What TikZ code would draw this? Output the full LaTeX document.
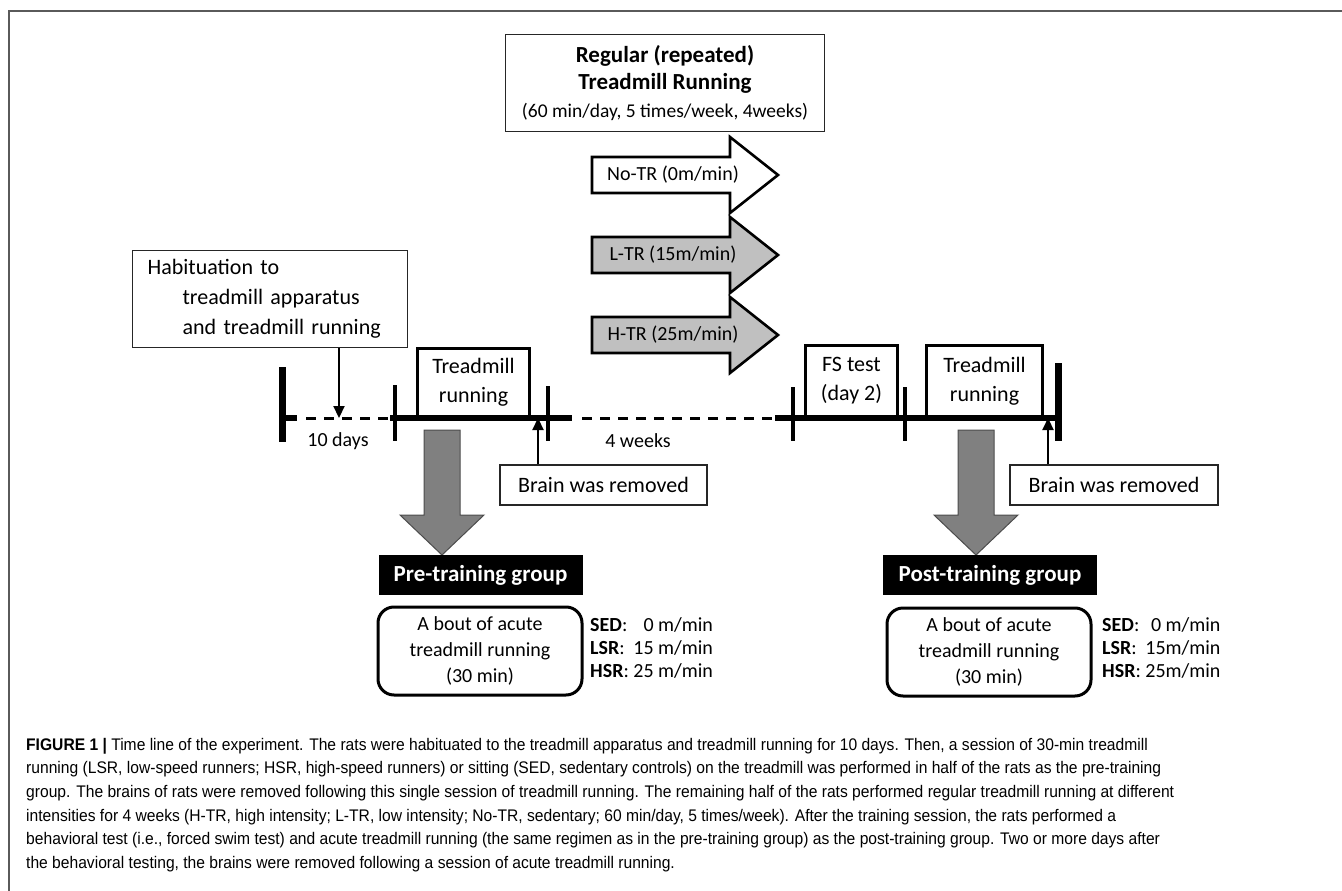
\documentclass[tikz,border=0pt]{standalone}
\usepackage{fontspec}
\setmainfont{Carlito}
\newfontfamily\capfont{Liberation Sans}[FakeStretch=0.93]
\usetikzlibrary{arrows.meta,positioning}

\definecolor{framegray}{HTML}{5A5A5A}
\definecolor{arrowlight}{HTML}{C0C0C0}
\definecolor{arrowdark}{HTML}{808080}

\tikzset{
  thinbox/.style={draw=black!85,line width=1.2pt,fill=white,inner sep=0pt},
  phasebox/.style={draw=black,line width=3pt,inner sep=0pt,align=center,font=\fontsize{22}{29}\selectfont},
  groupbox/.style={fill=black,text=white,inner sep=0pt,minimum width=204,minimum height=40,font=\fontsize{23}{27}\selectfont\bfseries},
  boutbox/.style={draw=black,line width=3pt,rounded corners=16pt,inner sep=0pt,minimum width=204,minimum height=88,align=center,font=\fontsize{20}{26}\selectfont},
  speedtext/.style={inner sep=0pt,anchor=west,font=\fontsize{20}{23}\selectfont},
  trarrow/.style={draw=black,line width=2.6pt,line join=miter},
  bigarrow/.style={draw=black!70,line width=1pt,fill=arrowdark},
  mainline/.style={line width=6.5pt},
  dashline/.style={line width=3pt,dash pattern=on 10pt off 8pt},
  tickline/.style={line width=3.5pt},
  bracket/.style={line width=7pt},
  pointer/.style={line width=2.2pt,-{Triangle[length=12pt,width=11pt]}},
}

\begin{document}
\begin{tikzpicture}[x=1pt,y=-1pt]
  \useasboundingbox (0,0) rectangle (1342,891);
  % frame
  \draw[framegray,line width=2pt] (9,891) -- (9,11) -- (1342,11);

  % regular training block
  \node[thinbox,minimum width=319,minimum height=97,align=center,font=\fontsize{23}{27}\selectfont\bfseries] (regular) at (665,83)
    {Regular (repeated)\\
     Treadmill Running\\[1pt]
     {\fontsize{19.5}{24}\selectfont\mdseries (60 min/day, 5 times/week, 4weeks)}};

  \draw[trarrow,fill=white] (592,157) -- (730,157) -- (730,137) -- (778,175) -- (730,213) -- (730,193) -- (592,193) -- cycle;
  \node[font=\fontsize{20}{24}\selectfont] (notr) at (673,175) {No-TR (0m/min)};
  \draw[trarrow,fill=arrowlight] (592,237) -- (730,237) -- (730,217) -- (778,255) -- (730,293) -- (730,273) -- (592,273) -- cycle;
  \node[font=\fontsize{20}{24}\selectfont] (ltr) at (673,255) {L-TR (15m/min)};
  \draw[trarrow,fill=arrowlight] (592,317) -- (730,317) -- (730,297) -- (778,335) -- (730,373) -- (730,353) -- (592,353) -- cycle;
  \node[font=\fontsize{20}{24}\selectfont] (htr) at (673,335) {H-TR (25m/min)};

  % habituation
  \node[thinbox,anchor=north west,minimum width=275,minimum height=97,text width=245,inner xsep=15pt,align=left,
        font=\fontsize{22}{30}\selectfont] (habit) at (132,250)
    {Habituation to\\\hspace*{35pt}treadmill apparatus\\\hspace*{35pt}and treadmill running};

  % time line
  \coordinate (hab) at (339,418);
  \coordinate (endA) at (538,418);
  \coordinate (endB) at (1048,418);
  \draw[bracket] (282,367) -- (282,442);
  \draw[mainline] (279,418) -- (297,418);
  \draw[dashline] (306,418) -- (390,418);
  \draw[mainline] (390,418) -- (572,418);
  \draw[tickline] (395,385) -- (395,441);
  \draw[tickline] (548,386) -- (548,441);
  \draw[dashline] (582,418) -- (772,418);
  \draw[mainline] (775,418) -- (1058,418);
  \draw[tickline] (793,387) -- (793,441);
  \draw[tickline] (905,387) -- (905,441);
  \draw[bracket] (1058,363) -- (1058,441);

  \node[phasebox,anchor=south west,minimum width=112,minimum height=68] (trA) at (416,418) {Treadmill\\running};
  \node[phasebox,anchor=south west,minimum width=92,minimum height=71] (fs) at (804,418) {FS test\\(day 2)};
  \node[phasebox,anchor=south west,minimum width=116,minimum height=71] (trB) at (925,418) {Treadmill\\running};

  \node[font=\fontsize{20}{24}\selectfont] (tenday) at (338,441) {10 days};
  \node[font=\fontsize{20}{24}\selectfont] (fourwk) at (638,441) {4 weeks};

  \draw[pointer] (hab |- habit.south) -- (hab);

  % brain removal
  \node[thinbox,minimum width=207,minimum height=40,font=\fontsize{22}{26}\selectfont] (brainA) at (603.5,485) {Brain was removed};
  \node[thinbox,minimum width=208,minimum height=40,font=\fontsize{22}{26}\selectfont] (brainB) at (1114,485) {Brain was removed};
  \draw[pointer] (brainA.north -| endA) -- (endA);
  \draw[pointer] (brainB.north -| endB) -- (endB);

  % groups
  \draw[bigarrow] (424,430) -- (460,430) -- (460,515) -- (484,515) -- (442,555) -- (400,515) -- (424,515) -- cycle;
  \draw[bigarrow] (958,430) -- (994,430) -- (994,515) -- (1018,515) -- (976,555) -- (934,515) -- (958,515) -- cycle;

  \node[groupbox] (pre) at (480.5,575) {Pre-training group};
  \node[boutbox] (boutA) at (480,651) {A bout of acute\\treadmill running\\(30 min)};
  \node[speedtext] (spdA) at (590,650)
    {\begin{tabular}{@{}l@{\ }r@{}}\textbf{SED}: & 0 m/min\\ \textbf{LSR}: & 15 m/min\\ \textbf{HSR}: & 25 m/min\end{tabular}};

  \node[groupbox,minimum width=214] (post) at (990,575) {Post-training group};
  \node[boutbox] (boutB) at (989,652) {A bout of acute\\treadmill running\\(30 min)};
  \node[speedtext] (spdB) at (1102,650)
    {\begin{tabular}{@{}l@{\ }r@{}}\textbf{SED}: & 0 m/min\\ \textbf{LSR}: & 15m/min\\ \textbf{HSR}: & 25m/min\end{tabular}};

  % caption
  \node[anchor=north west,inner sep=0pt,align=left,font=\capfont\fontsize{16.8}{23.6}\selectfont] (caption) at (26,738)
    {\textbf{FIGURE 1 |} Time line of the experiment. The rats were habituated to the treadmill apparatus and treadmill running for 10 days. Then, a session of 30-min treadmill\\
     running (LSR, low-speed runners; HSR, high-speed runners) or sitting (SED, sedentary controls) on the treadmill was performed in half of the rats as the pre-training\\
     group. The brains of rats were removed following this single session of treadmill running. The remaining half of the rats performed regular treadmill running at different\\
     intensities for 4 weeks (H-TR, high intensity; L-TR, low intensity; No-TR, sedentary; 60 min/day, 5 times/week). After the training session, the rats performed a\\
     behavioral test (i.e., forced swim test) and acute treadmill running (the same regimen as in the pre-training group) as the post-training group. Two or more days after\\
     the behavioral testing, the brains were removed following a session of acute treadmill running.};
\end{tikzpicture}
\end{document}
